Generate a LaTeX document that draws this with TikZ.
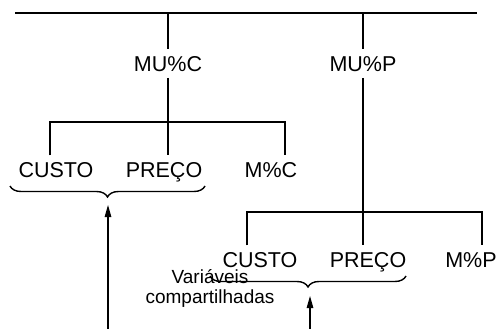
\documentclass[tikz,border=0pt]{standalone}
\usepackage{fontspec}
\setmainfont{Liberation Sans}
\usetikzlibrary{decorations.pathreplacing,arrows.meta}
\begin{document}
\begin{tikzpicture}[x=1pt,y=-1pt,
  lab/.style={font=\fontsize{21.5}{24}\selectfont, inner xsep=0pt, inner ysep=6.5pt, anchor=base},
  small/.style={font=\fontsize{19}{19.5}\selectfont, inner sep=0pt, align=center, anchor=base},
  ln/.style={line width=1.2pt},
  br/.style={line width=1.4pt, decorate, decoration={brace, amplitude=11pt}},
  arr/.style={line width=1.2pt, -{Triangle[length=12pt,width=6.5pt]}}]
\useasboundingbox (0,0) rectangle (503,329);
% top line
\coordinate (tl) at (15,13);
\coordinate (tr) at (477,13);
\draw[ln] (tl) -- (tr);
% second-level labels
\node[lab] (mucc) at (168,71) {MU\%C};
\node[lab] (mucp) at (363,71) {MU\%P};
\draw[ln] (mucc.north |- tl) -- (mucc.north);
\draw[ln] (mucp.north |- tl) -- (mucp.north);
% left group
\node[lab] (cust1) at (56,177) {CUSTO};
\node[lab] (pre1) at (164,177) {PREÇO};
\node[lab] (mc) at (271,177) {M\%C};
\coordinate (b1a) at (50,122);
\coordinate (b1c) at (285,122);
\draw[ln] (b1a |- cust1.north) -- (b1a) -- (b1c) -- (b1c |- mc.north);
\draw[ln] (mucc.south) -- (mucc.south |- pre1.north);
% right group
\node[lab] (cust2) at (260,267) {CUSTO};
\node[lab] (pre2) at (368,267) {PREÇO};
\node[lab] (mp) at (471,267) {M\%P};
\coordinate (b2a) at (247,212);
\coordinate (b2c) at (482,212);
\draw[ln] (b2a |- cust2.north) -- (b2a) -- (b2c) -- (b2c |- mp.north);
\draw[ln] (mucp.south) -- (mucp.south |- pre2.north);
% braces
\coordinate (br1r) at (205,186);
\coordinate (br1l) at (10,186);
\draw[br] (br1r) -- (br1l);
\coordinate (br2r) at (406,276);
\coordinate (br2l) at (210,276);
\draw[br] (br2r) -- (br2l);
% shared variables text
\node[small] (var) at (210,303) {Variáveis\\compartilhadas};
% arrows
\coordinate (a1s) at (108,329);
\coordinate (a1e) at (108,205);
\draw[arr] (a1s) -- (a1e);
\coordinate (a2s) at (310,329);
\coordinate (a2e) at (310,296);
\draw[arr] (a2s) -- (a2e);
\end{tikzpicture}
\end{document}
